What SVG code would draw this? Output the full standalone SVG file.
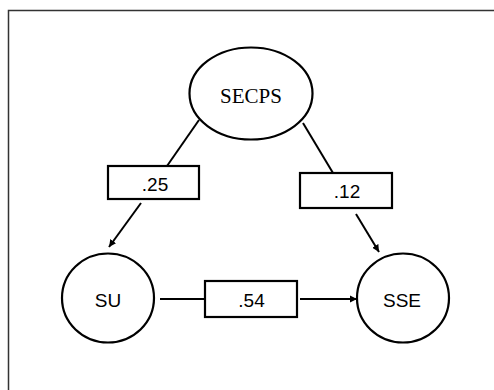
<svg xmlns="http://www.w3.org/2000/svg" width="494" height="390" viewBox="0 0 494 390">
<defs>
<style>
.n{fill:#fff;stroke:#000;stroke-width:2.2}
.c{stroke:#000;stroke-width:2;fill:none}
.s{font-family:"Liberation Sans",Arial,sans-serif;font-size:19px;text-anchor:middle;fill:#000}
.t{font-family:"Liberation Serif","Times New Roman",serif;font-size:21px;text-anchor:middle;fill:#000}
</style>
<marker id="ah" viewBox="0 0 10 10" refX="10" refY="5" markerWidth="3.6" markerHeight="3.6" orient="auto" markerUnits="strokeWidth">
<path d="M0,0 L10,5 L0,10 z" fill="#000"/>
</marker>
</defs>
<rect width="494" height="390" fill="#fff"/>
<path d="M8.5,390 V10.5 H494" fill="none" stroke="#333" stroke-width="1.5"/>
<g id="connectors">
<line class="c" x1="199" y1="120" x2="167" y2="166"/>
<line class="c" x1="141" y1="203" x2="109" y2="247" marker-end="url(#ah)"/>
<line class="c" x1="303" y1="123" x2="333" y2="173"/>
<line class="c" x1="356" y1="214" x2="379" y2="252" marker-end="url(#ah)"/>
<line class="c" x1="160" y1="299" x2="205" y2="299"/>
<line class="c" x1="300" y1="299" x2="357" y2="299" marker-end="url(#ah)"/>
</g>
<g id="SECPS">
<ellipse class="n" cx="251" cy="93.5" rx="61.5" ry="46"/>
<text class="t" x="251" y="103">SECPS</text>
</g>
<g id="SU">
<ellipse class="n" cx="108" cy="298" rx="46" ry="44.5"/>
<text class="s" x="108" y="307">SU</text>
</g>
<g id="SSE">
<ellipse class="n" cx="403" cy="298" rx="46" ry="44.5"/>
<text class="s" x="402" y="307">SSE</text>
</g>
<g id="e25">
<rect class="n" x="108" y="166" width="91" height="33"/>
<text class="s" x="155" y="191">.25</text>
</g>
<g id="e12">
<rect class="n" x="300" y="173" width="92" height="35"/>
<text class="s" x="347" y="198">.12</text>
</g>
<g id="e54">
<rect class="n" x="205" y="281" width="92" height="36"/>
<text class="s" x="251.5" y="307">.54</text>
</g>
</svg>
